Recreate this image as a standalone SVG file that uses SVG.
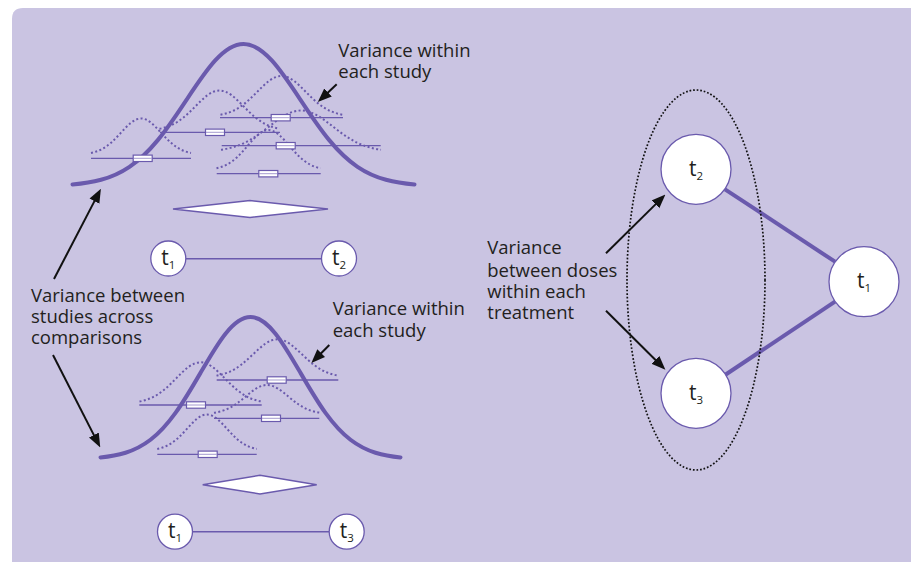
<svg xmlns="http://www.w3.org/2000/svg" xmlns:xlink="http://www.w3.org/1999/xlink" width="912" height="562" viewBox="0 0 912 562">
  <style>
    .bg { fill: #cac4e2; }
    .txt { font-family: "Open Sans", "Noto Sans", "Liberation Sans", sans-serif; font-size: 18.5px; fill: #231f20; }
    .lbl { font-family: "Open Sans", "Noto Sans", "Liberation Sans", sans-serif; font-size: 21px; fill: #231f20; text-anchor: middle; }
    .sub { font-size: 11.5px; }
    .big { fill: none; stroke: #6a5aad; stroke-width: 4; stroke-linecap: round; }
    .dot { fill: none; stroke: #6a5aad; stroke-width: 2; stroke-dasharray: 2 2.4; }
    .study { stroke: #6a5aad; stroke-width: 1.3; }
    .box { fill: #ffffff; stroke: #6a5aad; stroke-width: 1.2; }
    .boxmid { stroke: #8d80c2; stroke-width: 0.8; }
    .pool { fill: #ffffff; stroke: #6a5aad; stroke-width: 1.5; stroke-linejoin: miter; }
    .node { fill: #ffffff; stroke: #6a5aad; stroke-width: 1.3; }
    .edge { stroke: #6a5aad; stroke-width: 1.4; }
    .edge-thick { stroke: #6a5aad; stroke-width: 4; }
    .arrow { stroke: #111111; stroke-width: 2; fill: none; marker-end: url(#head); }
    .group-ring { fill: none; stroke: #111111; stroke-width: 1.7; stroke-dasharray: 1.7 1.9; }
  </style>
  <defs>
    <!-- unit normal curve, x in sd units, height 1, drawn upward from y=0 -->
    <path id="g3" vector-effect="non-scaling-stroke" d="M-3,-0.0111 C-2.8333,-0.0167 -2.6667,-0.0256 -2.5,-0.0439 C-2.3333,-0.0622 -2.1667,-0.0902 -2,-0.1353 C-1.8333,-0.1804 -1.6667,-0.2435 -1.5,-0.3247 C-1.3333,-0.4059 -1.1667,-0.5054 -1,-0.6065 C-0.8333,-0.7076 -0.6667,-0.809 -0.5,-0.8825 C-0.3333,-0.956 -0.1667,-1 0,-1 C0.1667,-1 0.3333,-0.956 0.5,-0.8825 C0.6667,-0.809 0.8333,-0.7076 1,-0.6065 C1.1667,-0.5054 1.3333,-0.4059 1.5,-0.3247 C1.6667,-0.2435 1.8333,-0.1804 2,-0.1353 C2.1667,-0.0902 2.3333,-0.0622 2.5,-0.0439 C2.6667,-0.0256 2.8333,-0.0167 3,-0.0111"/>
    <path id="g25" vector-effect="non-scaling-stroke" d="M-2.5,-0.0439 C-2.3333,-0.0622 -2.1667,-0.0902 -2,-0.1353 C-1.8333,-0.1804 -1.6667,-0.2435 -1.5,-0.3247 C-1.3333,-0.4059 -1.1667,-0.5054 -1,-0.6065 C-0.8333,-0.7076 -0.6667,-0.809 -0.5,-0.8825 C-0.3333,-0.956 -0.1667,-1 0,-1 C0.1667,-1 0.3333,-0.956 0.5,-0.8825 C0.6667,-0.809 0.8333,-0.7076 1,-0.6065 C1.1667,-0.5054 1.3333,-0.4059 1.5,-0.3247 C1.6667,-0.2435 1.8333,-0.1804 2,-0.1353 C2.1667,-0.0902 2.3333,-0.0622 2.5,-0.0439"/>
    <g id="est">
      <rect x="-9.5" y="-3.2" width="19" height="6.4" class="box"/>
      <line x1="-9" y1="0" x2="9" y2="0" class="boxmid"/>
    </g>
    <marker id="head" markerUnits="userSpaceOnUse" markerWidth="14" markerHeight="12" refX="4" refY="5.5" orient="auto" viewBox="0 0 14 11">
      <path d="M0,0 L14,5.5 L0,11 z" fill="#111111"/>
    </marker>
  </defs>

  <!-- panel background -->
  <path class="bg" d="M12,19 Q12,8 23,8 L911,8 L911,562 L12,562 Z"/>

  <!-- upper forest: t1 vs t2 -->
  <g id="forest-t1-t2">
    <use xlink:href="#g3" class="big" transform="translate(243.5,186) scale(57,142)"/>
    <use xlink:href="#g25" class="dot" transform="translate(141,154.5) scale(20,36)"/>
    <use xlink:href="#g25" class="dot" transform="translate(219.5,130.5) scale(24,40)"/>
    <use xlink:href="#g25" class="dot" transform="translate(281.5,116.5) scale(24.4,40.5)"/>
    <use xlink:href="#g25" class="dot" transform="translate(301,151.5) scale(32,41)"/>
    <use xlink:href="#g25" class="dot" transform="translate(268.5,170) scale(20.8,40)"/>
    <line class="study" x1="91" y1="158.3" x2="191" y2="158.3"/>
    <line class="study" x1="160" y1="132.3" x2="280" y2="132.3"/>
    <line class="study" x1="220" y1="117.7" x2="343" y2="117.7"/>
    <line class="study" x1="221.7" y1="145.7" x2="380.7" y2="145.7"/>
    <line class="study" x1="216.7" y1="173.7" x2="320.7" y2="173.7"/>
    <use xlink:href="#est" transform="translate(142.7,158.3)"/>
    <use xlink:href="#est" transform="translate(215,132.3)"/>
    <use xlink:href="#est" transform="translate(280.7,117.7)"/>
    <use xlink:href="#est" transform="translate(285.7,145.7)"/>
    <use xlink:href="#est" transform="translate(268.3,173.7)"/>
    <polygon class="pool" points="173,209 250,200.5 328,209 250,217.5"/>
  </g>

  <!-- lower forest: t1 vs t3 -->
  <g id="forest-t1-t3">
    <use xlink:href="#g3" class="big" transform="translate(250.5,459) scale(50,142)"/>
    <use xlink:href="#g25" class="dot" transform="translate(200.5,403.3) scale(24.4,41)"/>
    <use xlink:href="#g25" class="dot" transform="translate(277.5,377.3) scale(24.4,38)"/>
    <use xlink:href="#g25" class="dot" transform="translate(267,414) scale(21.2,29)"/>
    <use xlink:href="#g25" class="dot" transform="translate(207,450.5) scale(19.9,36)"/>
    <line class="study" x1="139.3" y1="405" x2="261.7" y2="405"/>
    <line class="study" x1="216.7" y1="380" x2="338.3" y2="380"/>
    <line class="study" x1="214" y1="418.3" x2="319.3" y2="418.3"/>
    <line class="study" x1="157.3" y1="454.3" x2="256.7" y2="454.3"/>
    <use xlink:href="#est" transform="translate(196,405)"/>
    <use xlink:href="#est" transform="translate(276.7,380)"/>
    <use xlink:href="#est" transform="translate(271,418.3)"/>
    <use xlink:href="#est" transform="translate(207.7,454.3)"/>
    <polygon class="pool" points="202.7,484.7 260,475.3 316.7,484.7 260,494"/>
  </g>

  <!-- edges -->
  <g id="connectors">
    <line class="edge" x1="185.8" y1="258.8" x2="321.5" y2="258.8"/>
    <line class="edge" x1="192.5" y1="531.7" x2="329.2" y2="531.7"/>
    <line class="edge-thick" x1="725" y1="189.3" x2="835" y2="261.7"/>
    <line class="edge-thick" x1="725" y1="375" x2="835" y2="301.7"/>
  </g>

  <!-- dose grouping ring -->
  <ellipse id="dose-group" class="group-ring" cx="696" cy="280" rx="69" ry="190"/>

  <!-- nodes -->
  <g id="node-top-t1">
    <circle class="node" cx="168.3" cy="258.5" r="17.5"/>
    <text class="lbl" x="168.3" y="265">t<tspan class="sub" dy="3.5">1</tspan></text>
  </g>
  <g id="node-top-t2">
    <circle class="node" cx="339" cy="258.5" r="17.5"/>
    <text class="lbl" x="339" y="265">t<tspan class="sub" dy="3.5">2</tspan></text>
  </g>
  <g id="node-bottom-t1">
    <circle class="node" cx="175" cy="531.7" r="17.5"/>
    <text class="lbl" x="175" y="538.2">t<tspan class="sub" dy="3.5">1</tspan></text>
  </g>
  <g id="node-bottom-t3">
    <circle class="node" cx="346.7" cy="531.7" r="17.5"/>
    <text class="lbl" x="346.7" y="538.2">t<tspan class="sub" dy="3.5">3</tspan></text>
  </g>
  <g id="node-t2">
    <circle class="node" cx="696" cy="169.3" r="35"/>
    <text class="lbl" x="696" y="175.5">t<tspan class="sub" dy="4">2</tspan></text>
  </g>
  <g id="node-t3">
    <circle class="node" cx="696" cy="393.3" r="35"/>
    <text class="lbl" x="696" y="399.5">t<tspan class="sub" dy="4">3</tspan></text>
  </g>
  <g id="node-t1">
    <circle class="node" cx="864" cy="281.7" r="35"/>
    <text class="lbl" x="864" y="288">t<tspan class="sub" dy="4">1</tspan></text>
  </g>

  <!-- annotation arrows -->
  <g id="annotation-arrows">
    <line class="arrow" x1="336.7" y1="84.3" x2="325.1" y2="95.2"/>
    <line class="arrow" x1="329.3" y1="345" x2="318.4" y2="356"/>
    <line class="arrow" x1="54" y1="279" x2="96.3" y2="197.6"/>
    <line class="arrow" x1="53" y1="355" x2="95.7" y2="438.6"/>
    <line class="arrow" x1="606" y1="253.3" x2="658.3" y2="201.6"/>
    <line class="arrow" x1="606" y1="310.7" x2="658.3" y2="362.7"/>
  </g>

  <!-- annotation text, one block per label -->
  <g id="annotation-text" class="txt">
    <text x="338.3" y="56.7">Variance within<tspan x="338.3" dy="21">each study</tspan></text>
    <text x="332.7" y="315">Variance within<tspan x="332.7" dy="21.7">each study</tspan></text>
    <text x="31" y="301.7">Variance between<tspan x="31" dy="21.6">studies across</tspan><tspan x="31" dy="21">comparisons</tspan></text>
    <text x="487.3" y="254.3">Variance<tspan x="487.3" dy="22.4">between doses</tspan><tspan x="487.3" dy="21">within each</tspan><tspan x="487.3" dy="21.3">treatment</tspan></text>
  </g>
</svg>
